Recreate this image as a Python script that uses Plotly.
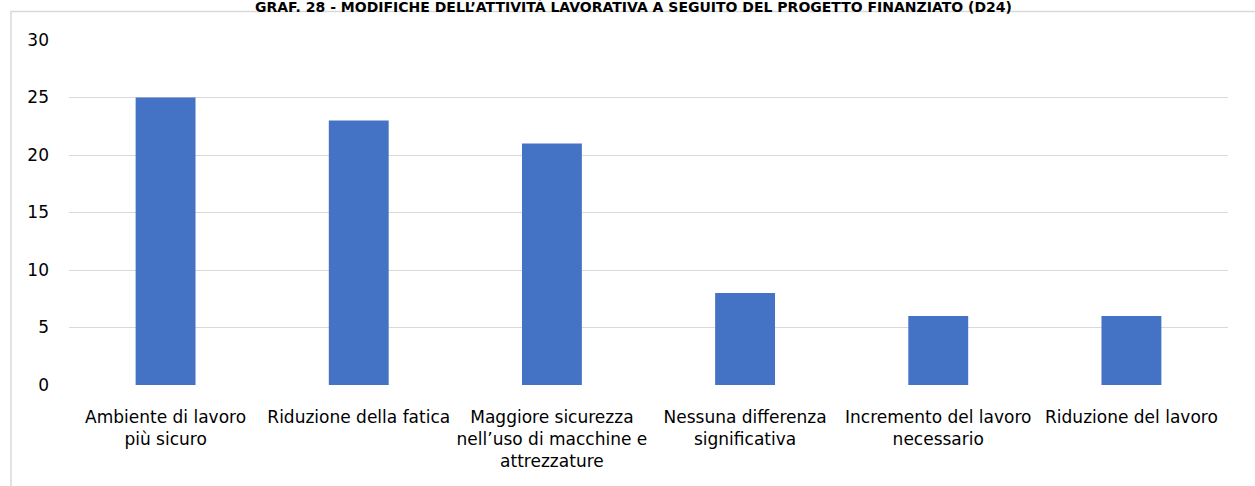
import plotly.graph_objects as go

categories = [
    "Ambiente di lavoro<br>più sicuro",
    "Riduzione della fatica",
    "Maggiore sicurezza<br>nell’uso di macchine e<br>attrezzature",
    "Nessuna differenza<br>significativa",
    "Incremento del lavoro<br>necessario",
    "Riduzione del lavoro",
]
values = [25, 23, 21, 8, 6, 6]
y_ticks = [0, 5, 10, 15, 20, 25, 30]
title_text = "GRAF. 28 - MODIFICHE DELL’ATTIVITÀ LAVORATIVA A SEGUITO DEL PROGETTO FINANZIATO (D24)"

FONT = "'DejaVu Sans', 'Open Sans', sans-serif"

fig = go.Figure(go.Bar(x=categories, y=values, marker=dict(color="#4472C4", line=dict(width=0)), width=0.31))

W, H = 1255, 486
L, R, T, B = 69, 27, 40, 101
pw, ph = W - L - R, H - T - B

def px_x(p):
    return (p - L) / pw

def px_y(p):
    return (H - B - p) / ph

fig.update_layout(
    width=W, height=H,
    margin=dict(l=L, r=R, t=T, b=B),
    plot_bgcolor="white", paper_bgcolor="white",
    showlegend=False,
    font=dict(family=FONT, size=17, color="#000000"),
    xaxis=dict(showgrid=False, showline=False, ticks="", tickfont=dict(size=17),
               ticklabelstandoff=20, automargin=False),
    yaxis=dict(range=[0, 30], tickvals=y_ticks, showgrid=True, gridcolor="#d9d9d9", gridwidth=1,
               zeroline=False, showline=False, ticks="", ticklen=0, tickfont=dict(size=17),
               ticklabelstandoff=19, automargin=False),
    shapes=[dict(type="rect", xref="paper", yref="paper",
                 x0=px_x(11), x1=px_x(1262), y0=px_y(11.5), y1=px_y(495),
                 line=dict(color="#d9d9d9", width=1.5), fillcolor="rgba(0,0,0,0)", layer="below")],
    annotations=[dict(text="<b>" + title_text + "</b>", xref="paper", yref="paper",
                      x=px_x(633), y=px_y(-2), xanchor="center", yanchor="top", borderpad=0,
                      showarrow=False, font=dict(family=FONT, size=14, color="#000000"))],
)

fig.write_html("out.html", config={"displayModeBar": False},
               post_script="document.body.style.margin='0';document.body.style.overflow='hidden';")
